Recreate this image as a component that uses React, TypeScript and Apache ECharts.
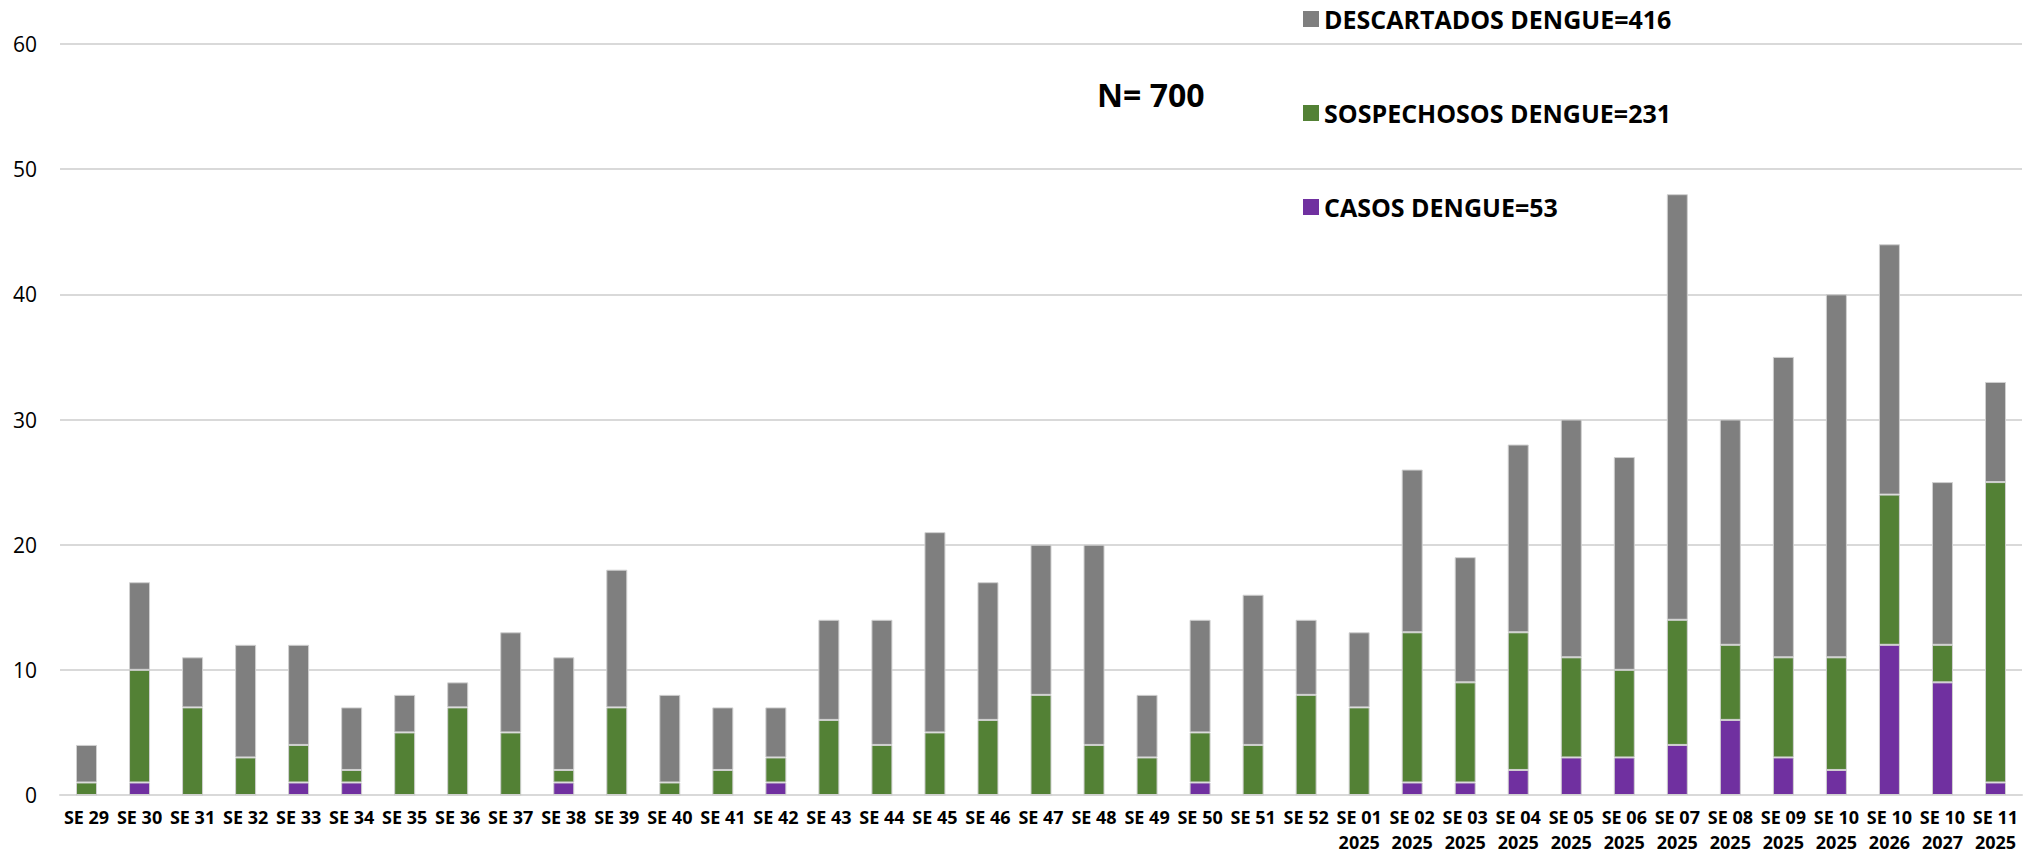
import React, { useEffect, useRef } from "react";
import * as echarts from "echarts";

const categories: string[] = [
  "SE 29", "SE 30", "SE 31", "SE 32", "SE 33", "SE 34", "SE 35", "SE 36", "SE 37", "SE 38",
  "SE 39", "SE 40", "SE 41", "SE 42", "SE 43", "SE 44", "SE 45", "SE 46", "SE 47", "SE 48",
  "SE 49", "SE 50", "SE 51", "SE 52",
  "SE 01\n2025", "SE 02\n2025", "SE 03\n2025", "SE 04\n2025", "SE 05\n2025", "SE 06\n2025",
  "SE 07\n2025", "SE 08\n2025", "SE 09\n2025", "SE 10\n2025", "SE 10\n2026", "SE 10\n2027",
  "SE 11\n2025",
];

const casos: number[] = [
  0, 1, 0, 0, 1, 1, 0, 0, 0, 1,
  0, 0, 0, 1, 0, 0, 0, 0, 0, 0,
  0, 1, 0, 0,
  0, 1, 1, 2, 3, 3, 4, 6, 3, 2, 12, 9, 1,
];

const sospechosos: number[] = [
  1, 9, 7, 3, 3, 1, 5, 7, 5, 1,
  7, 1, 2, 2, 6, 4, 5, 6, 8, 4,
  3, 4, 4, 8,
  7, 12, 8, 11, 8, 7, 10, 6, 8, 9, 12, 3, 24,
];

const descartados: number[] = [
  3, 7, 4, 9, 8, 5, 3, 2, 8, 9,
  11, 7, 5, 4, 8, 10, 16, 11, 12, 16,
  5, 9, 12, 6,
  6, 13, 10, 15, 19, 17, 34, 18, 24, 29, 20, 13, 8,
];

const seriesNames = {
  descartados: "DESCARTADOS DENGUE=416",
  sospechosos: "SOSPECHOSOS DENGUE=231",
  casos: "CASOS DENGUE=53",
};

const yTicks = { min: 0, max: 60, interval: 10 };
const totalLabel = "N= 700";

const FONT = "'Open Sans', sans-serif";

export default function App() {
  const ref = useRef<HTMLDivElement>(null);

  useEffect(() => {
    if (!ref.current) return;
    const chart = echarts.init(ref.current, undefined, { renderer: "svg" });
    const barBase = {
      type: "bar" as const,
      stack: "total",
      barWidth: 21,
      itemStyle: { borderColor: "#d0d0d0", borderWidth: 1 },
      emphasis: { disabled: true },
    };
    chart.setOption({
      animation: false,
      backgroundColor: "#ffffff",
      textStyle: { fontFamily: FONT },
      grid: { left: 60, right: 18, top: 44, bottom: 63, containLabel: false },
      legend: {
        orient: "vertical",
        left: 1303,
        top: 2,
        padding: 0,
        itemWidth: 16,
        itemHeight: 16,
        itemGap: 60,
        icon: "rect",
        data: [seriesNames.descartados, seriesNames.sospechosos, seriesNames.casos],
        textStyle: {
          fontFamily: FONT,
          fontSize: 25,
          fontWeight: "bold",
          color: "#000000",
          lineHeight: 34,
        },
        itemStyle: { borderWidth: 0 },
      },
      graphic: [
        {
          type: "text",
          x: 1097,
          y: 94,
          style: {
            text: totalLabel,
            fontFamily: FONT,
            fontSize: 32,
            fontWeight: "bold",
            fill: "#000000",
            verticalAlign: "middle",
          },
        },
      ],
      xAxis: {
        type: "category",
        data: categories,
        axisLine: { show: true, lineStyle: { color: "#d9d9d9", width: 2 } },
        axisTick: { show: false },
        axisLabel: {
          interval: 0,
          margin: 9,
          fontFamily: FONT,
          fontSize: 18,
          fontWeight: "bold",
          color: "#000000",
          lineHeight: 25,
        },
      },
      yAxis: {
        type: "value",
        min: yTicks.min,
        max: yTicks.max,
        interval: yTicks.interval,
        axisLine: { show: false },
        axisTick: { show: false },
        splitLine: { lineStyle: { color: "#d9d9d9", width: 2 } },
        axisLabel: {
          margin: 23,
          fontFamily: FONT,
          fontSize: 21,
          color: "#000000",
        },
      },
      series: [
        { ...barBase, name: seriesNames.casos, data: casos, itemStyle: { ...barBase.itemStyle, color: "#7030a0" } },
        { ...barBase, name: seriesNames.sospechosos, data: sospechosos, itemStyle: { ...barBase.itemStyle, color: "#538135" } },
        { ...barBase, name: seriesNames.descartados, data: descartados, itemStyle: { ...barBase.itemStyle, color: "#7f7f7f" } },
      ],
    });
    return () => chart.dispose();
  }, []);

  return (
    <div
      ref={ref}
      style={{ position: "absolute", left: 0, top: 0, width: 2040, height: 858 }}
    />
  );
}
